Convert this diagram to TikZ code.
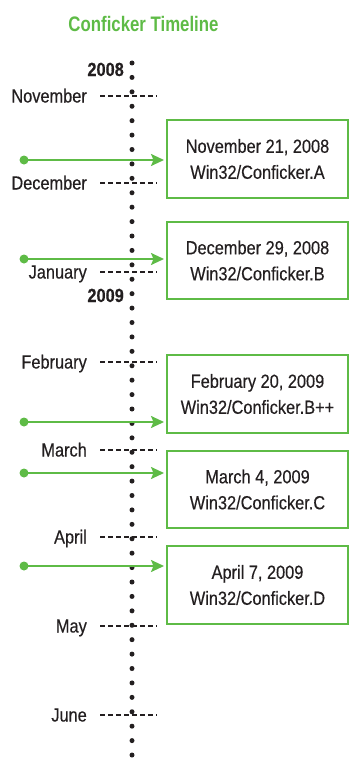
\documentclass[tikz,border=0pt]{standalone}
\usepackage{fontspec}
\setmainfont{Liberation Sans}[FakeStretch=0.86,FakeBold=0.4]
\newfontfamily\titlefont{Liberation Sans}[FakeStretch=0.8]
\usetikzlibrary{arrows.meta}
\definecolor{cgreen}{RGB}{94,187,70}
\definecolor{ctext}{RGB}{35,31,32}
\begin{document}
\begin{tikzpicture}[x=1pt,y=-1pt,
  month/.style={anchor=base east,font=\fontsize{19}{22}\selectfont,text=ctext,inner sep=0pt},
  year/.style={anchor=base east,font=\fontsize{19}{22}\selectfont\bfseries,text=ctext,inner sep=0pt},
  tick/.style={line width=2pt,ctext,dash pattern=on 5pt off 3pt},
  evbox/.style={draw=cgreen,line width=1.5pt,minimum width=181pt,minimum height=78pt,inner sep=0pt,
    align=center,font=\fontsize{19}{26}\selectfont,text=ctext},
  evarrow/.style={draw=cgreen,line width=2pt,-{Stealth[length=13pt,width=12pt,inset=2.5pt]}},
  evdot/.style={fill=cgreen,draw=none}]
\useasboundingbox (0,0) rectangle (349,760);
% title
\node[anchor=base,inner sep=0pt,text=cgreen,font=\titlefont\fontsize{21}{24}\selectfont\bfseries] (title) at (143.5,32) {Conficker Timeline};
% vertical dotted axis
\coordinate (axtop) at (132,63);
\coordinate (axbot) at (132,756);
\draw[line width=5pt,ctext,line cap=round,dash pattern=on 0pt off 14.417pt] (axtop) -- (axbot);
% months
\foreach \n/\lab/\y in {nov/November/96,dec/December/183,jan/January/272,feb/February/362,mar/March/450,apr/April/537,may/May/626,jun/June/715}{
  \coordinate (\n-a) at (100,\y);
  \coordinate (\n-b) at (157,\y);
  \draw[tick] (\n-a) -- (\n-b);
  \node[month] (\n-lab) at (87,\y+6.5) {\lab};
}
% years
\node[year] (y2008) at (124,76) {2008};
\node[year] (y2009) at (124,302) {2009};
% boxes
\node[evbox] (b1) at (257.5,159) {November 21, 2008\\Win32/Conficker.A};
\node[evbox,minimum height=77pt] (b2) at (257.5,260.5) {December 29, 2008\\Win32/Conficker.B};
\node[evbox] (b3) at (257.5,394) {February 20, 2009\\Win32/Conficker.B++};
\node[evbox,minimum height=77pt] (b4) at (257.5,489.5) {March 4, 2009\\Win32/Conficker.C};
\node[evbox] (b5) at (257.5,585) {April 7, 2009\\Win32/Conficker.D};
% arrows
\foreach \i/\y in {1/160,2/259,3/422,4/473,5/566}{
  \coordinate (s\i) at (24,\y);
  \coordinate (e\i) at (164,\y);
  \draw[evarrow] (s\i) -- (e\i);
  \fill[evdot] (s\i) circle (4.5pt);
}
\end{tikzpicture}
\end{document}
